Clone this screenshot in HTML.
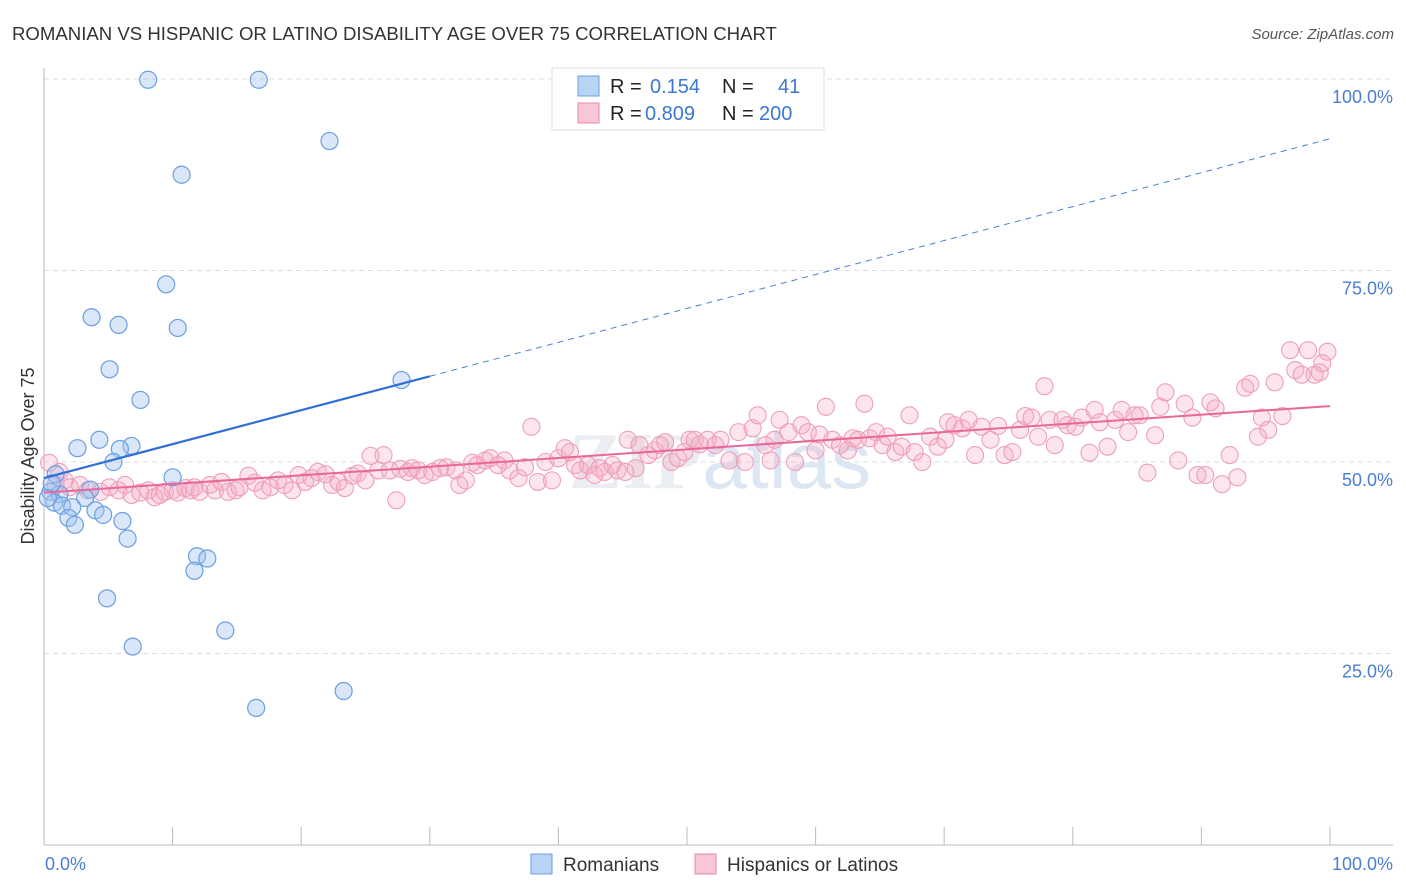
<!DOCTYPE html>
<html><head><meta charset="utf-8"><style>
body{margin:0;background:#fff;font-family:"Liberation Sans",sans-serif;}
svg{display:block}
</style></head><body>
<svg id="c" width="1406" height="892" xmlns="http://www.w3.org/2000/svg">
<text x="12" y="40" font-size="18.6" fill="#333">ROMANIAN VS HISPANIC OR LATINO DISABILITY AGE OVER 75 CORRELATION CHART</text>
<text x="1394" y="39" font-size="15" fill="#555" font-style="italic" text-anchor="end">Source: ZipAtlas.com</text>
<text x="720" y="488" font-size="80" fill="#eaedf1" text-anchor="middle" font-weight="bold" font-family="Liberation Serif,serif">ZIP<tspan fill="#dde7f4" font-family="Liberation Sans,sans-serif" font-weight="normal">atlas</tspan></text>
<g id="grid"></g><g id="axes"></g><g id="marks"></g>
<text transform="translate(34,456) rotate(-90)" font-size="18" fill="#333" text-anchor="middle">Disability Age Over 75</text>
<g>
<rect x="552" y="68" width="272" height="62" fill="#fff" stroke="#ddd"/>
<rect x="578" y="76" width="21" height="20" fill="#b8d4f5" stroke="#6a9fe0"/>
<rect x="578" y="103" width="21" height="20" fill="#f9c6d6" stroke="#e88aaa"/>
<text x="610" y="93" font-size="20" fill="#222">R = <tspan x="650" fill="#3a78d4">0.154</tspan><tspan x="722" fill="#222">N =</tspan><tspan x="778" fill="#3a78d4">41</tspan></text>
<text x="610" y="120" font-size="20" fill="#222">R = <tspan x="645" fill="#3a78d4">0.809</tspan><tspan x="722" fill="#222">N =</tspan><tspan x="759" fill="#3a78d4">200</tspan></text>
</g>
<g>
<rect x="531" y="854" width="21" height="20" fill="#b8d4f5" stroke="#6a9fe0"/>
<text x="563" y="871" font-size="19" fill="#333">Romanians</text>
<rect x="695" y="854" width="21" height="20" fill="#f9c6d6" stroke="#e88aaa"/>
<text x="727" y="871" font-size="19" fill="#333">Hispanics or Latinos</text>
</g>
</svg>
<script>
const yTicks=[25,50,75,100];
const yTickLabels=["25.0%","50.0%","75.0%","100.0%"];
const xTicks=[0,10,20,30,40,50,60,70,80,90,100];
const blueX=[8.1,16.7,22.2,10.7,9.5,3.7,5.8,10.4,5.1,7.5,27.8,4.3,2.6,6.8,5.9,5.4,10.0,0.9,0.5,1.2,3.6,3.2,0.8,1.4,2.2,4.0,1.9,4.6,6.1,2.4,6.5,11.9,12.7,11.7,4.9,14.1,6.9,23.3,16.5,0.6,0.3];
const blueY=[99.9,99.9,91.9,87.5,73.2,68.9,67.9,67.5,62.1,58.1,60.7,52.9,51.8,52.1,51.7,50.0,48.0,48.4,46.1,45.8,46.4,45.3,44.7,44.3,44.1,43.7,42.7,43.1,42.3,41.8,40.0,37.7,37.4,35.8,32.2,28.0,25.9,20.1,17.9,47.2,45.3];
const pinkX=[0.4,1.2,1.6,0.9,2.0,2.8,3.4,4.4,5.1,5.8,6.3,6.8,7.5,8.1,8.6,9.0,9.4,10.0,10.4,11.0,11.4,11.7,12.1,12.9,13.3,13.8,14.3,14.9,15.2,15.9,16.4,17.0,17.6,18.2,18.7,19.3,19.8,20.3,20.8,21.3,21.9,22.4,22.9,23.4,24.0,24.4,25.0,25.4,26.0,26.4,26.9,27.4,27.7,28.3,28.6,29.1,29.6,30.2,30.8,31.3,32.0,32.3,32.8,33.3,33.7,34.3,34.7,35.3,35.8,36.2,36.9,37.4,37.9,38.4,39.0,39.5,40.0,40.5,40.9,41.3,41.7,42.3,42.8,43.2,43.6,44.2,44.6,45.2,45.4,46.0,46.3,47.0,47.5,47.9,48.3,48.8,49.3,49.8,50.2,50.6,51.0,51.6,52.2,52.6,53.3,54.0,54.5,55.1,55.5,56.1,56.5,56.8,57.2,57.9,58.4,58.9,59.4,60.0,60.3,60.8,61.3,61.9,62.5,62.9,63.3,63.8,64.2,64.7,65.2,65.6,66.2,66.7,67.3,67.7,68.3,68.9,69.5,70.1,70.3,70.8,71.4,71.9,72.4,72.9,73.6,74.2,74.7,75.3,75.9,76.3,76.8,77.3,77.8,78.2,78.6,79.2,79.6,80.2,80.7,81.3,81.7,82.1,82.7,83.3,83.8,84.3,84.8,85.2,85.8,86.4,86.8,87.2,88.2,88.7,89.3,89.7,90.3,90.7,91.1,91.6,92.2,92.8,93.4,93.8,94.4,94.7,95.2,95.7,96.3,96.9,97.3,97.8,98.3,98.8,99.4,99.8,99.2];
const pinkY=[49.9,48.7,47.6,47.0,46.7,47.0,46.3,46.1,46.7,46.3,47.0,45.7,46.0,46.3,45.4,45.7,46.1,46.3,46.0,46.6,46.3,46.7,46.1,47.0,46.3,47.4,46.1,46.3,46.7,48.2,47.3,46.3,46.7,47.6,47.0,46.3,48.3,47.4,47.9,48.7,48.4,47.0,47.4,46.6,48.2,48.5,47.6,50.8,48.9,50.9,48.9,45.0,49.1,48.7,49.2,48.9,48.3,48.7,49.2,49.3,48.9,47.0,47.6,49.9,49.6,50.2,50.5,49.6,50.2,48.9,47.9,49.3,54.6,47.4,50.0,47.6,50.5,51.8,51.3,49.6,48.9,49.6,48.3,49.2,48.7,49.6,48.9,48.7,52.9,49.2,52.2,50.9,51.5,52.2,52.6,50.0,50.5,51.3,52.9,52.9,52.3,52.9,52.2,52.9,50.2,53.9,50.0,54.4,56.1,52.2,50.2,52.9,55.5,53.9,50.0,54.8,53.9,51.5,53.6,57.2,52.9,52.2,51.5,53.1,52.9,57.6,53.1,53.9,52.2,53.3,51.3,52.0,56.1,51.3,50.0,53.3,52.0,52.9,55.2,54.8,54.4,55.5,50.9,54.6,52.9,54.7,50.9,51.3,54.2,56.0,55.8,53.3,59.9,55.5,52.2,55.5,54.8,54.6,55.8,51.2,56.8,55.2,52.0,55.5,56.8,53.9,56.1,56.1,48.6,53.5,57.2,59.1,50.2,57.6,55.8,48.3,48.3,57.8,57.0,47.1,50.9,48.0,59.7,60.2,53.3,55.8,54.2,60.4,56.0,64.6,62.0,61.4,64.6,61.4,62.9,64.4,61.7];
const blueTrend=[47.9,0.443];   // intercept, slope
const blueSolidEnd=30;
const pinkTrend=[46.0,0.113];

const NS="http://www.w3.org/2000/svg";
const X0=44,X1=1330,Y0=845,Y100=79;
const sx=v=>X0+(X1-X0)*v/100;
const sy=v=>Y0-(Y0-Y100)*v/100;
function mk(tag,attrs,parent){const e=document.createElementNS(NS,tag);for(const k in attrs)e.setAttribute(k,attrs[k]);parent.appendChild(e);return e;}
const grid=document.getElementById('grid'),axes=document.getElementById('axes'),marks=document.getElementById('marks');
yTicks.forEach((t,i)=>{
  const l=mk('line',{x1:X0,x2:1393,y1:sy(t),y2:sy(t),stroke:'#ddd','stroke-dasharray':'5,4'},grid);
  
  
  const tx=mk('text',{x:1393,y:sy(t)+24,'font-size':18,fill:'#4a7fd0','text-anchor':'end'},axes);
  tx.textContent=yTickLabels[i];
  
  
});
const ya=mk('line',{x1:X0,x2:X0,y1:68,y2:Y0,stroke:'#bbb'},axes);


const xa=mk('line',{x1:X0,x2:1393,y1:Y0,y2:Y0,stroke:'#bbb'},axes);


xTicks.forEach(t=>{
  const l=mk('line',{x1:sx(t),x2:sx(t),y1:827,y2:Y0,stroke:'#bbb'},axes);
  
  
});
const xl0=mk('text',{x:45,y:870,'font-size':18,fill:'#4a7fd0'},axes);xl0.textContent='0.0%';


const xl1=mk('text',{x:1393,y:870,'font-size':18,fill:'#4a7fd0','text-anchor':'end'},axes);xl1.textContent='100.0%';



pinkX.forEach((x,i)=>{
  const c=mk('circle',{cx:sx(x),cy:sy(pinkY[i]),r:8.5,fill:'rgba(245,170,195,0.3)',stroke:'#ee9fba','stroke-width':1.1},marks);
  
  
});
blueX.forEach((x,i)=>{
  const c=mk('circle',{cx:sx(x),cy:sy(blueY[i]),r:8.5,fill:'rgba(160,196,240,0.4)',stroke:'#6a9fe0','stroke-width':1.2},marks);
  
  
});
const pt=mk('line',{x1:sx(0),y1:sy(pinkTrend[0]),x2:sx(100),y2:sy(pinkTrend[0]+pinkTrend[1]*100),stroke:'#e8689a','stroke-width':2},marks);


const bt=mk('line',{x1:sx(0),y1:sy(blueTrend[0]),x2:sx(blueSolidEnd),y2:sy(blueTrend[0]+blueTrend[1]*blueSolidEnd),stroke:'#2f6fd6','stroke-width':2.2},marks);


const bd=mk('line',{x1:sx(blueSolidEnd),y1:sy(blueTrend[0]+blueTrend[1]*blueSolidEnd),x2:sx(100),y2:sy(blueTrend[0]+blueTrend[1]*100),stroke:'#4a80d8','stroke-width':1,'stroke-dasharray':'6,5'},marks);


</script>
</body></html>
